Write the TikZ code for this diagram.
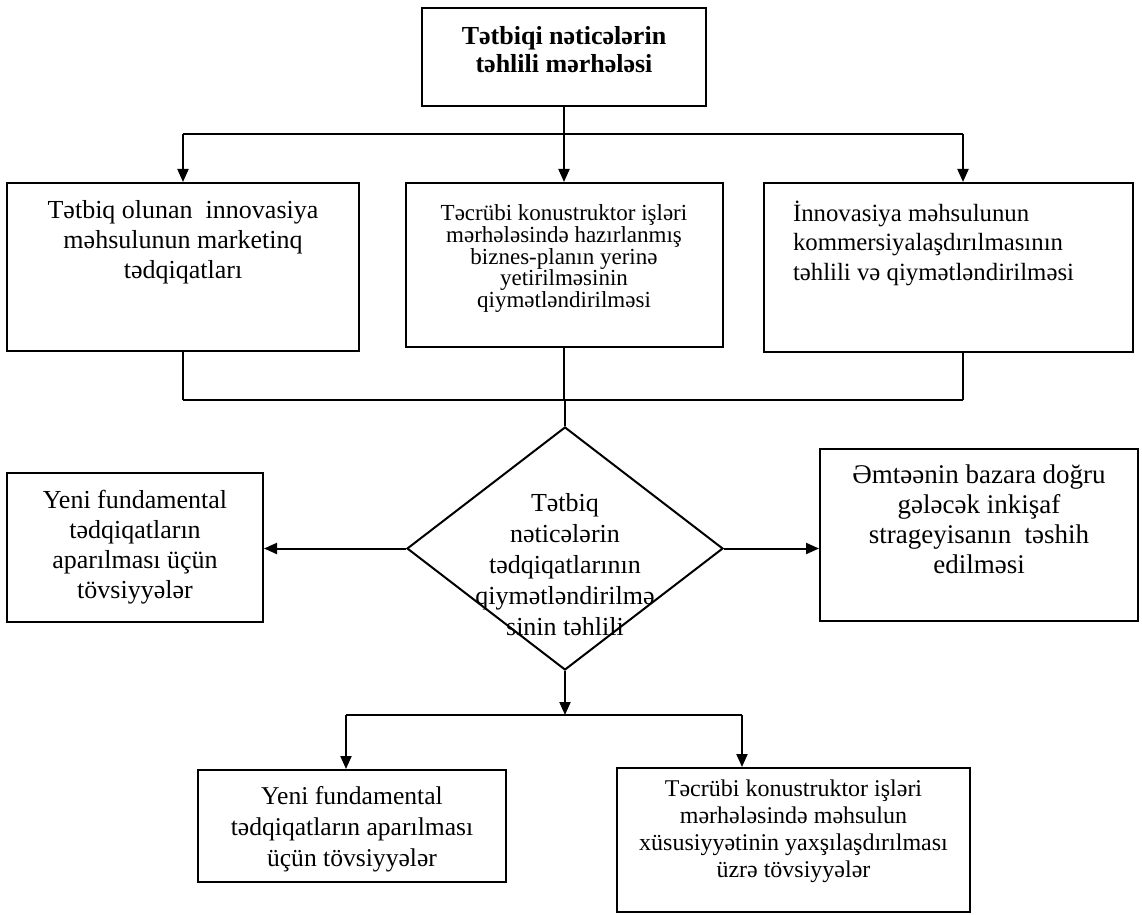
\documentclass[tikz,border=0pt]{standalone}
\usepackage{fontspec}
\setmainfont{Liberation Serif}
\usetikzlibrary{shapes.geometric,arrows.meta}

% matn qutunun yuxarisinda: eni, hundurluyu, yuxari bosluq, matn
\newcommand{\topbox}[4]{\parbox[c][#2][t]{#1}{\centering\vspace*{#3}#4}}

\begin{document}
\begin{tikzpicture}[x=0.5pt, y=-0.5pt, line width=1pt,
    >={Triangle[length=6.5pt,width=5.5pt]},
    box/.style={draw, inner sep=0pt, align=center},
    decision/.style={draw, diamond, inner sep=0pt, minimum width=158pt, minimum height=121.5pt}]
    \useasboundingbox (0,0) rectangle (1142,915);

    % Yuxari blok
    \node[box, font=\bfseries\fontsize{13}{14}\selectfont] (etap) at (564,57)
        {\topbox{142pt}{49pt}{9pt}{Tətbiqi nəticələrin\\ təhlili mərhələsi}};

    % Birinci sira
    \node[box, font=\fontsize{13}{15}\selectfont] (marketinq) at (183,267)
        {\topbox{176pt}{84pt}{8.5pt}{Tətbiq olunan\ \ innovasiya\\ məhsulunun marketinq\\ tədqiqatları}};
    \node[box, font=\fontsize{11.5}{10.8}\selectfont] (biznesplan) at (564,265)
        {\topbox{158.5pt}{82pt}{11pt}{Təcrübi konustruktor işləri\\ mərhələsində hazırlanmış\\ biznes-planın yerinə\\ yetirilməsinin\\ qiymətləndirilməsi}};
    \node[box, font=\fontsize{12.4}{14.75}\selectfont] (kommers) at (948.5,267.5)
        {\parbox[c][84.5pt][t]{184.5pt}{\raggedright\leftskip=14.5pt\vspace*{9pt}İnnovasiya məhsulunun\\ kommersiyalaşdırılmasının\\ təhlili və qiymətləndirilməsi}};

    % Romb
    \node[decision] (qiymet) at (565,548.5) {};
    \node[font=\fontsize{13}{15.5}\selectfont, align=center, inner sep=0pt] (qiymetyazi) at (565,565)
        {Tətbiq\\ nəticələrin\\ tədqiqatlarının\\ qiymətləndirilmə\\ sinin təhlili};

    % Yanlar
    \node[box, minimum width=128pt, minimum height=74.5pt, font=\fontsize{13}{15}\selectfont] (tovsiyye) at (135,547.5)
        {Yeni fundamental\\ tədqiqatların\\ aparılması üçün\\ tövsiyyələr};
    \node[box, font=\fontsize{13.5}{15}\selectfont] (strategiya) at (979,535)
        {\topbox{159pt}{86pt}{8pt}{Əmtəənin bazara doğru\\ gələcək inkişaf\\ strageyisanın\ \ təshih\\ edilməsi}};

    % Asagi sira
    \node[box, font=\fontsize{12.8}{15.5}\selectfont] (fundamental) at (352,826)
        {\topbox{154pt}{56pt}{8pt}{Yeni fundamental\\ tədqiqatların aparılması\\ üçün tövsiyyələr}};
    \node[box, font=\fontsize{12}{13.5}\selectfont] (xususiyyet) at (793.5,840)
        {\topbox{176.5pt}{72pt}{6pt}{Təcrübi konustruktor işləri\\ mərhələsində məhsulun\\ xüsusiyyətinin yaxşılaşdırılması\\ üzrə tövsiyyələr}};

    % Xetler
    \coordinate (b1L) at (183,134);
    \coordinate (b1R) at (963,134);
    \coordinate (b2L) at (183,400);
    \coordinate (b2R) at (963,400);
    \coordinate (b3L) at (346,715);
    \coordinate (b3R) at (742,715);

    \draw (etap.south) -- (etap.south |- b1L);
    \draw (b1L) -- (b1R);
    \draw[->] (b1L) -- (b1L |- marketinq.north);
    \draw[->] (etap.south |- b1L) -- (etap.south |- biznesplan.north);
    \draw[->] (b1R) -- (b1R |- kommers.north);

    \draw (marketinq.south) -- (b2L);
    \draw (biznesplan.south) -- (biznesplan.south |- b2L);
    \draw (b2R |- kommers.south) -- (b2R);
    \draw (b2L) -- (b2R);
    \draw (qiymet.north |- b2L) -- (qiymet.north);

    \draw[->] (qiymet.west) -- (tovsiyye.east |- qiymet.west);
    \draw[->] (qiymet.east) -- (strategiya.west |- qiymet.east);

    \draw[->] (qiymet.south) -- (qiymet.south |- b3L);
    \draw (b3L) -- (b3R);
    \draw[->] (b3L) -- (b3L |- fundamental.north);
    \draw[->] (b3R) -- (b3R |- xususiyyet.north);
\end{tikzpicture}
\end{document}
